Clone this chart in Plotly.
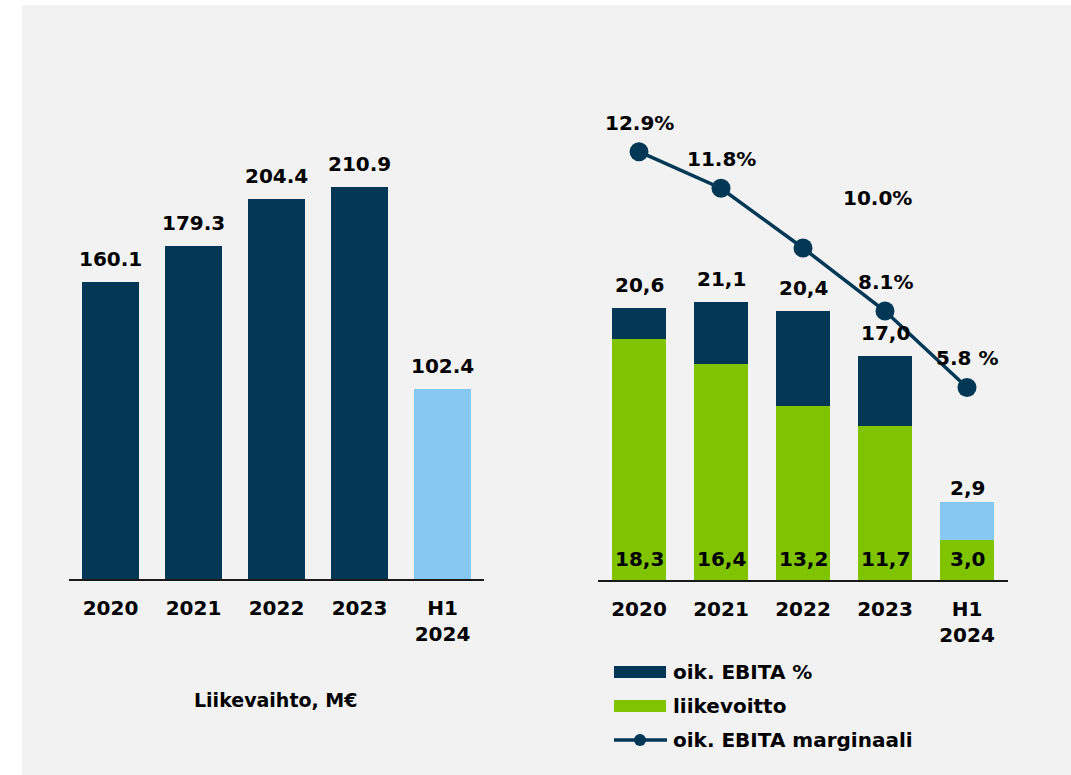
import plotly.graph_objects as go

# ---- data ----
categories = ["2020", "2021", "2022", "2023", "H1<br>2024"]
revenue = [160.1, 179.3, 204.4, 210.9, 102.4]
ebita_total = [20.6, 21.1, 20.4, 17.0]          # oik. EBITA (full years), M€
h1_ebita = 2.9                                   # H1 2024 EBITA label
operating_profit = [18.3, 16.4, 13.2, 11.7, 3.0]  # liikevoitto
ebita_margin = [12.9, 11.8, 10.0, 8.1, 5.8]
margin_labels = ["12.9%", "11.8%", "10.0%", "8.1%", "5.8 %"]

# ---- style ----
W, H = 1071, 775
DARK = "#023856"
GREEN = "#80C300"
LIGHT = "#86C8F1"
FONT = "DejaVu Sans"


def px(x):
    return x / W


def py(y):
    return 1 - y / H


top_segment = [t - o for t, o in zip(ebita_total, operating_profit[:4])] + [h1_ebita]
top_labels = ebita_total + [h1_ebita]
top_values = [o + s for o, s in zip(operating_profit, top_segment)]

fig = go.Figure()

# Left: revenue
fig.add_trace(go.Bar(
    x=categories, y=revenue, width=0.69,
    marker=dict(color=[DARK] * 4 + [LIGHT], line=dict(width=0)),
    xaxis="x", yaxis="y", hoverinfo="x+y"))

# Right: stacked bars
fig.add_trace(go.Bar(
    x=categories, y=operating_profit, width=0.67,
    marker=dict(color=GREEN, line=dict(width=0)),
    xaxis="x2", yaxis="y2", name="liikevoitto"))
fig.add_trace(go.Bar(
    x=categories, y=top_segment, width=0.67,
    marker=dict(color=[DARK] * 4 + [LIGHT], line=dict(width=0)),
    xaxis="x2", yaxis="y2", name="oik. EBITA %"))

# Right: margin line
fig.add_trace(go.Scatter(
    x=categories, y=ebita_margin, mode="lines+markers",
    line=dict(color=DARK, width=3.5),
    marker=dict(color=DARK, size=19),
    xaxis="x2", yaxis="y3", name="oik. EBITA marginaali"))

ann = []
lab_font = dict(family=FONT, size=20, color="black", weight="bold")
for i, v in enumerate(revenue):
    ann.append(dict(x=i, y=v, xref="x", yref="y", text=f"{v:.1f}",
                    showarrow=False, yanchor="bottom", yshift=9, font=lab_font))
for i, (v, l) in enumerate(zip(top_values, top_labels)):
    ann.append(dict(x=i, y=v, xref="x2", yref="y2", text=f"{l:.1f}".replace(".", ","),
                    showarrow=False, yanchor="bottom", yshift=9 if l > 5 else 0,
                    font=lab_font))
for i, v in enumerate(operating_profit):
    ann.append(dict(x=i, y=0, xref="x2", yref="y2", text=f"{v:.1f}".replace(".", ","),
                    showarrow=False, yanchor="bottom", yshift=7, font=lab_font))
for i, (v, t) in enumerate(zip(ebita_margin, margin_labels)):
    xs, ys = (74, 50) if i == 2 else (0, 29)
    ann.append(dict(x=i, y=v, xref="x2", yref="y3", text=t, showarrow=False,
                    yanchor="middle", xshift=xs, yshift=ys, font=lab_font))

ann.append(dict(x=px(276), y=py(700), xref="paper", yref="paper",
                text="Liikevaihto, M€", showarrow=False,
                xanchor="center", yanchor="middle",
                font=dict(family=FONT, size=19, color="black", weight="bold")))

# custom legend
shapes = [dict(type="rect", xref="paper", yref="paper", x0=px(22), x1=1, y0=0, y1=py(5),
               fillcolor="#F2F2F2", line=dict(width=0), layer="below")]
legend_items = [("oik. EBITA %", "rect", DARK, 672),
                ("liikevoitto", "rect", GREEN, 706),
                ("oik. EBITA marginaali", "line", DARK, 740)]
for text, kind, col, yc in legend_items:
    if kind == "rect":
        shapes.append(dict(type="rect", xref="paper", yref="paper",
                           x0=px(614), x1=px(666), y0=py(yc + 6), y1=py(yc - 6),
                           fillcolor=col, line=dict(width=0)))
    else:
        shapes.append(dict(type="line", xref="paper", yref="paper",
                           x0=px(614), x1=px(667), y0=py(yc), y1=py(yc),
                           line=dict(color=col, width=3.5)))
        shapes.append(dict(type="circle", xref="paper", yref="paper",
                           x0=px(634), x1=px(646), y0=py(yc + 6), y1=py(yc - 6),
                           fillcolor=col, line=dict(width=0)))
    ann.append(dict(x=px(671), y=py(yc), xref="paper", yref="paper", text=text,
                    showarrow=False, xanchor="left", yanchor="middle",
                    font=dict(family=FONT, size=20, color="black", weight="bold")))

xaxis_common = dict(type="category", range=[-0.5, 4.5], showline=True,
                    linecolor="#1a1a1a", linewidth=2, showgrid=False, zeroline=False,
                    ticks="", ticklabelstandoff=10,
                    tickfont=dict(family=FONT, size=20, color="black", weight="bold"),
                    fixedrange=True)

fig.update_layout(
    width=W, height=H,
    margin=dict(l=0, r=0, t=0, b=0),
    paper_bgcolor="white", plot_bgcolor="rgba(0,0,0,0)",
    barmode="stack", showlegend=False,
    xaxis=dict(domain=[px(69), px(484)], anchor="y", **xaxis_common),
    yaxis=dict(domain=[py(579), py(100)], range=[0, 479 / 1.857], visible=False,
               anchor="x"),
    xaxis2=dict(domain=[px(598), px(1008)], anchor="y2", **xaxis_common),
    yaxis2=dict(domain=[py(580), py(100)], range=[0, 480 / 13.19], visible=False,
                anchor="x2"),
    yaxis3=dict(domain=[py(580), py(100)], range=[0, 480 / 33.2], visible=False,
                overlaying="y2", anchor="x2"),
    annotations=ann, shapes=shapes,
)

fig.write_html("out.html", config={"displayModeBar": False},
               post_script="document.body.style.margin='0';")
